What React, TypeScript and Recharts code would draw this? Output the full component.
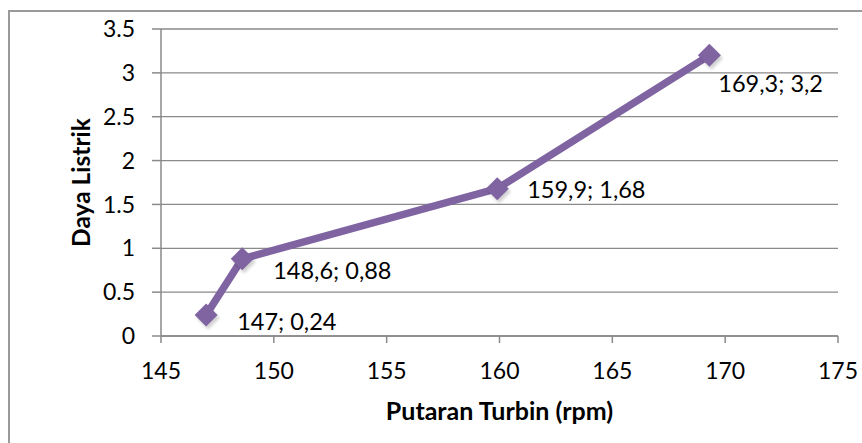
import React from 'react';
import { LineChart, Line, XAxis, YAxis, CartesianGrid, LabelList, Label } from 'recharts';

const putaran = [147, 148.6, 159.9, 169.3];
const daya = [0.24, 0.88, 1.68, 3.2];
const xTicks = [145, 150, 155, 160, 165, 170, 175];
const yTicks = [0, 0.5, 1, 1.5, 2, 2.5, 3, 3.5];

const chartData = putaran.map((x, i) => ({ x, y: daya[i] }));

// where each data label sits relative to its point (dx to text start, dy to text middle)
const labelOffsets = [
  { dx: 31, dy: 7 },
  { dx: 31, dy: 12 },
  { dx: 30, dy: 1 },
  { dx: 9, dy: 28 },
];

const PURPLE = '#8064A2';
const GRID = '#8a8a8a';
const FONT = 'Lato, Calibri, sans-serif';

const fmt = (v: number) => String(v).replace('.', ',');

const Diamond = (props: any) => {
  const { cx, cy } = props;
  if (cx == null || cy == null) return null;
  const r = 11.5;
  return (
    <g>
      <polygon
        points={`${cx + 2},${cy - r + 3} ${cx + r + 2},${cy + 3} ${cx + 2},${cy + r + 3} ${cx - r + 2},${cy + 3}`}
        fill="rgba(0,0,0,0.18)"
        filter="url(#blur)"
      />
      <polygon
        points={`${cx},${cy - r} ${cx + r},${cy} ${cx},${cy + r} ${cx - r},${cy}`}
        fill={PURPLE}
      />
    </g>
  );
};

const PointLabel = (props: any) => {
  const { x, y, index } = props;
  const off = labelOffsets[index] || { dx: 20, dy: 0 };
  const text = `${fmt(putaran[index])}; ${fmt(daya[index])}`;
  return (
    <text
      x={x + off.dx}
      y={y + off.dy}
      dy="0.36em"
      fontSize={23.5}
      fontFamily={FONT}
      fill="#000"
      textAnchor="start"
    >
      {text}
    </text>
  );
};

export default function App() {
  return (
    <div style={{ position: 'absolute', left: 0, top: 0, width: 862, height: 443, overflow: 'hidden', background: '#fff' }}>
      <div
        style={{
          position: 'absolute',
          left: 8,
          top: 10,
          width: 900,
          height: 500,
          borderLeft: '2px solid #9a9a9a',
          borderTop: '2px solid #9a9a9a',
        }}
      />
      <div style={{ position: 'absolute', left: 0, top: 0 }}>
        <LineChart width={862} height={443} data={chartData} margin={{ top: 29, right: 24, left: 0, bottom: 0 }}>
          <defs>
            <filter id="blur" x="-50%" y="-50%" width="200%" height="200%">
              <feGaussianBlur stdDeviation="1.5" />
            </filter>
          </defs>
          <CartesianGrid vertical={false} stroke={GRID} strokeWidth={1.3} />
          <XAxis
            dataKey="x"
            type="number"
            domain={[145, 175]}
            ticks={xTicks}
            interval={0}
            height={107}
            tickSize={7}
            tickMargin={20}
            stroke={GRID}
            strokeWidth={1.5}
            tick={{ fill: '#000', fontSize: 23, fontFamily: FONT }}
          >
            <Label
              value="Putaran Turbin (rpm)"
              position="insideBottom"
              offset={23}
              style={{ fill: '#000', fontSize: 25, fontWeight: 700, fontFamily: FONT }}
            />
          </XAxis>
          <YAxis
            type="number"
            domain={[0, 3.5]}
            ticks={yTicks}
            interval={0}
            width={161}
            tickSize={9}
            tickMargin={17}
            stroke={GRID}
            strokeWidth={1.5}
            tick={{ fill: '#000', fontSize: 23, fontFamily: FONT }}
          >
            <Label
              value="Daya Listrik"
              angle={-90}
              position="insideLeft"
              offset={81}
              textAnchor="middle"
              style={{ fill: '#000', fontSize: 24.5, fontWeight: 700, fontFamily: FONT, textAnchor: 'middle' }}
            />
          </YAxis>
          <Line
            type="linear"
            dataKey="y"
            stroke={PURPLE}
            strokeWidth={7.5}
            dot={<Diamond />}
            activeDot={false}
            isAnimationActive={false}
          >
            <LabelList dataKey="y" content={<PointLabel />} />
          </Line>
        </LineChart>
      </div>
    </div>
  );
}
